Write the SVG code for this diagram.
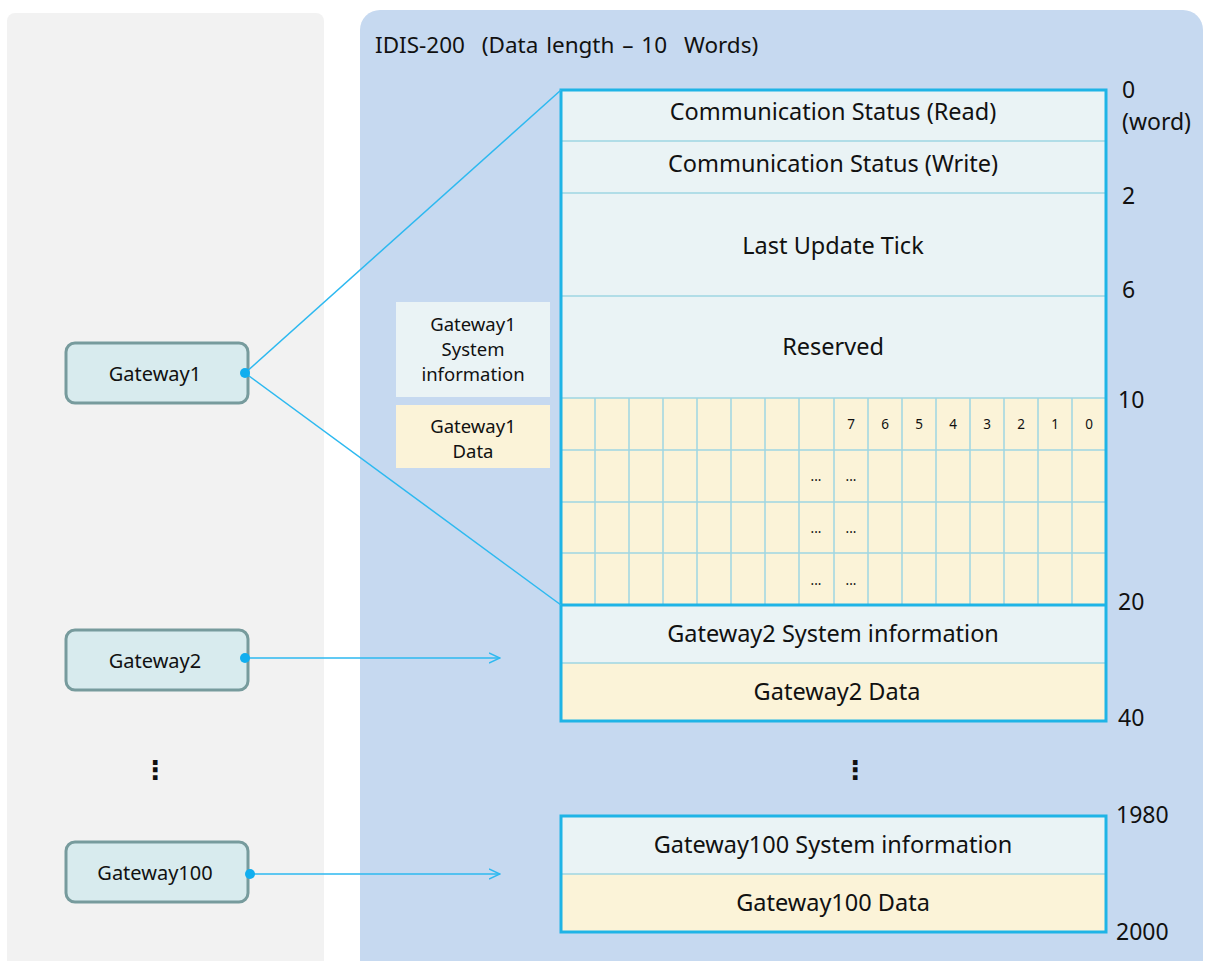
<svg xmlns="http://www.w3.org/2000/svg" width="1205" height="961" viewBox="0 0 1205 961">
<defs>
<style>
text{font-family:"Noto Sans","Open Sans","DejaVu Sans",sans-serif;fill:#111;}
.t{font-size:23.5px;text-anchor:middle;dominant-baseline:central;}
.s{font-size:20px;text-anchor:middle;dominant-baseline:central;}
.l{font-size:18.5px;text-anchor:middle;dominant-baseline:central;}
.n{font-size:13.5px;text-anchor:middle;dominant-baseline:central;}
.w{font-size:23px;dominant-baseline:central;}
.node{fill:#D8EBEE;stroke:#779B9D;stroke-width:3;}
.sys{fill:#EAF3F5;}
.dat{fill:#FBF3D8;}
.inner{stroke:#9FD6E2;stroke-width:1.5;fill:none;}
.outer{stroke:#1FB4E6;stroke-width:3;fill:none;}
.con{stroke:#2DB9F0;stroke-width:1.5;fill:none;}
</style>
<marker id="arr" viewBox="0 0 12 12" refX="11" refY="6" markerWidth="12" markerHeight="12" markerUnits="userSpaceOnUse" orient="auto">
<path d="M0,1 L11,6 L0,11" fill="none" stroke="#2DB9F0" stroke-width="1.5"/>
</marker>
</defs>
<rect width="1205" height="961" fill="#fff"/>
<rect x="7" y="13" width="317" height="960" rx="8" fill="#F2F2F2"/>
<rect x="360" y="10" width="843" height="970" rx="20" fill="#C6D9F0"/>
<text x="375" y="44" style="font-size:22.5px;word-spacing:2px;dominant-baseline:central;">IDIS-200<tspan dx="9"> (Data length – 10</tspan><tspan dx="9"> Words)</tspan></text>

<g id="gw1-labels">
<rect x="396" y="302" width="154" height="95" class="sys"/>
<text class="l" x="473" y="323">Gateway1</text>
<text class="l" x="473" y="348">System</text>
<text class="l" x="473" y="373">information</text>
<rect x="396" y="405" width="154" height="63" class="dat"/>
<text class="l" x="473" y="425">Gateway1</text>
<text class="l" x="473" y="450">Data</text>
</g>

<g id="memory-map">
<rect x="561" y="90" width="545" height="308" class="sys"/>
<rect x="561" y="398" width="545" height="207" class="dat"/>
<rect x="561" y="605" width="545" height="58" class="sys"/>
<rect x="561" y="663" width="545" height="58" class="dat"/>
<path class="inner" d="M561,141H1106M561,193H1106M561,296H1106M561,398H1106M561,450H1106M561,502H1106M561,553H1106M561,663H1106"/>
<path class="inner" d="M595,398V605M629,398V605M663,398V605M697,398V605M731,398V605M765,398V605M799,398V605M834,398V605M868,398V605M902,398V605M936,398V605M970,398V605M1004,398V605M1038,398V605M1072,398V605"/>
<path class="outer" d="M561,605H1106"/>
<rect x="561" y="90" width="545" height="631" class="outer"/>
<text class="t" x="833" y="111">Communication Status (Read)</text>
<text class="t" x="833" y="163">Communication Status (Write)</text>
<text class="t" x="833" y="245">Last Update Tick</text>
<text class="t" x="833" y="346">Reserved</text>
<text class="n" x="851" y="424">7</text>
<text class="n" x="885" y="424">6</text>
<text class="n" x="919" y="424">5</text>
<text class="n" x="953" y="424">4</text>
<text class="n" x="987" y="424">3</text>
<text class="n" x="1021" y="424">2</text>
<text class="n" x="1055" y="424">1</text>
<text class="n" x="1089" y="424">0</text>
<text class="n" x="816" y="476">...</text>
<text class="n" x="851" y="476">...</text>
<text class="n" x="816" y="528">...</text>
<text class="n" x="851" y="528">...</text>
<text class="n" x="816" y="580">...</text>
<text class="n" x="851" y="580">...</text>
<text class="t" x="833" y="633">Gateway2 System information</text>
<text class="t" x="837" y="691">Gateway2 Data</text>
</g>

<g id="memory-map-100">
<rect x="561" y="816" width="545" height="58" class="sys"/>
<rect x="561" y="874" width="545" height="58" class="dat"/>
<path class="inner" d="M561,874H1106"/>
<rect x="561" y="816" width="545" height="116" class="outer"/>
<text class="t" x="833" y="844">Gateway100 System information</text>
<text class="t" x="833" y="902">Gateway100 Data</text>
</g>

<g id="word-offsets">
<text class="w" x="1122" y="89">0</text>
<text class="w" x="1122" y="121">(word)</text>
<text class="w" x="1122" y="195">2</text>
<text class="w" x="1122" y="289">6</text>
<text class="w" x="1118" y="399">10</text>
<text class="w" x="1118" y="601">20</text>
<text class="w" x="1118" y="717">40</text>
<text class="w" x="1116" y="814">1980</text>
<text class="w" x="1116" y="931">2000</text>
</g>

<g id="gateway1"><rect x="66" y="343" width="182" height="60" rx="9" class="node"/><text class="s" x="155" y="373">Gateway1</text></g>
<g id="gateway2"><rect x="66" y="630" width="182" height="60" rx="9" class="node"/><text class="s" x="155" y="660">Gateway2</text></g>
<g id="gateway100"><rect x="66" y="842" width="182" height="60" rx="9" class="node"/><text class="s" x="155" y="872">Gateway100</text></g>

<g id="ellipses">
<text x="155" y="769" style="font-size:26px;font-weight:bold;text-anchor:middle;dominant-baseline:central;">⋮</text>
<text x="855" y="769" style="font-size:26px;font-weight:bold;text-anchor:middle;dominant-baseline:central;">⋮</text>
</g>

<g id="connectors">
<path class="con" d="M245,373L561,90"/>
<path class="con" d="M245,373L561,605"/>
<path class="con" d="M245,658H500" marker-end="url(#arr)"/>
<path class="con" d="M250,874H500" marker-end="url(#arr)"/>
<circle cx="245" cy="373" r="5" fill="#11AEEF"/>
<circle cx="245" cy="658" r="5" fill="#11AEEF"/>
<circle cx="250" cy="874" r="5" fill="#11AEEF"/>
</g>
</svg>
